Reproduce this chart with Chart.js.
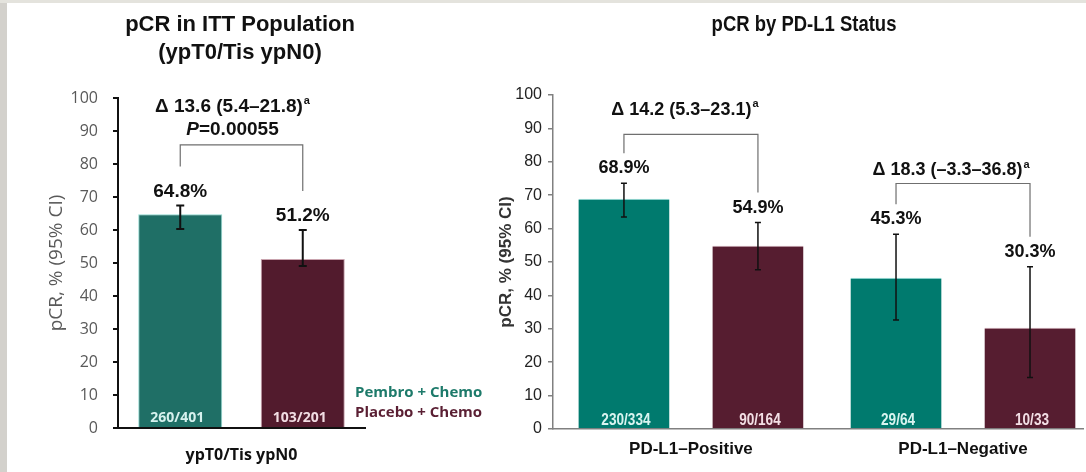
<!DOCTYPE html>
<html>
<head>
<meta charset="utf-8">
<script src="https://cdn.jsdelivr.net/npm/chart.js@4.4.1/dist/chart.umd.min.js"></script>
<style>
  html, body { margin: 0; padding: 0; }
  body { width: 1086px; height: 472px; background: #fff; position: relative; overflow: hidden; }
  #edgeLeft { position: absolute; left: 0; top: 0; width: 7px; height: 472px; background: #d3d1cc; }
  #edgeTop { position: absolute; left: 0; top: 0; width: 1086px; height: 3px; background: #e4e3dd; }
  .box { position: absolute; top: 0; height: 472px; }
  #boxItt { left: 0; width: 490px; }
  #boxPdl1 { left: 490px; width: 596px; }
</style>
</head>
<body>
<div id="edgeLeft"></div>
<div id="edgeTop"></div>
<div class="box" id="boxItt"><canvas id="ittCanvas" width="490" height="472"></canvas></div>
<div class="box" id="boxPdl1"><canvas id="pdl1Canvas" width="596" height="472"></canvas></div>
<script>
// arms
var armNames = ['Pembro + Chemo', 'Placebo + Chemo'];
var yTicks = [0, 10, 20, 30, 40, 50, 60, 70, 80, 90, 100];

// ITT population
var ittGroups = ['ypT0/Tis ypN0'];
var ittPcr = [64.8, 51.2];
var ittLow = [60.3, 49.1];
var ittHigh = [67.4, 60.0];
var ittCounts = ['260/401', '103/201'];
var ittDelta = 'Δ 13.6 (5.4–21.8)';
var ittP = '0.00055';

// PD-L1 subgroups
var pdl1Groups = ['PD-L1–Positive', 'PD-L1–Negative'];
var pdl1Pembro = [68.9, 45.3];
var pdl1PembroLow = [63.5, 32.6];
var pdl1PembroHigh = [73.6, 58.3];
var pdl1PembroCounts = ['230/334', '29/64'];
var pdl1Placebo = [54.9, 30.3];
var pdl1PlaceboLow = [47.7, 15.4];
var pdl1PlaceboHigh = [61.8, 48.6];
var pdl1PlaceboCounts = ['90/164', '10/33'];
var pdl1Deltas = ['Δ 14.2 (5.3–23.1)', 'Δ 18.3 (–3.3–36.8)'];

var ARIAL = "'Liberation Sans', Arial, sans-serif";
var OPEN = "'Open Sans', sans-serif";

function textWithSup(ctx, text, sup, cx, cy, font, supFont) {
    ctx.font = font;
    var w = ctx.measureText(text).width;
    ctx.font = supFont;
    var ws = ctx.measureText(sup).width;
    var x0 = cx - (w + ws + 1) / 2;
    ctx.textAlign = 'left';
    ctx.font = font;
    ctx.fillText(text, x0, cy);
    ctx.font = supFont;
    ctx.fillText(sup, x0 + w + 1, cy - 6);
}

// text squeezed horizontally, for the narrow face used on the PD-L1 panel
function squeezedText(ctx, text, x, y, squeeze) {
    ctx.save();
    ctx.translate(x, y);
    ctx.scale(squeeze, 1);
    ctx.fillText(text, 0, 0);
    ctx.restore();
}

// error bars, value labels, n/N counts, comparison brackets and titles
function pcrMarks(cfg) {
    return {
        id: 'pcrMarks',
        afterDatasetsDraw: function (chart) {
            var ctx = chart.ctx;
            var y = chart.scales.y;
            var area = chart.chartArea;
            var labelY = [];
            ctx.save();
            ctx.textBaseline = 'middle';

            chart.data.datasets.forEach(function (ds, d) {
                var meta = chart.getDatasetMeta(d);
                labelY[d] = [];
                meta.data.forEach(function (bar, i) {
                    var lo = y.getPixelForValue(ds.low[i]);
                    var hi = y.getPixelForValue(ds.high[i]);
                    ctx.strokeStyle = '#111';
                    ctx.lineWidth = cfg.errWidth;
                    ctx.beginPath();
                    ctx.moveTo(bar.x, lo);
                    ctx.lineTo(bar.x, hi);
                    ctx.moveTo(bar.x - cfg.cap, lo);
                    ctx.lineTo(bar.x + cfg.cap, lo);
                    ctx.moveTo(bar.x - cfg.cap, hi);
                    ctx.lineTo(bar.x + cfg.cap, hi);
                    ctx.stroke();

                    var vy = hi - cfg.labelGap;
                    labelY[d][i] = vy;
                    ctx.fillStyle = '#111';
                    ctx.textAlign = 'center';
                    ctx.font = cfg.valueFont;
                    ctx.fillText(ds.pcr[i].toFixed(1) + '%', bar.x, vy);

                    ctx.fillStyle = ds.countColor;
                    ctx.font = cfg.countFont;
                    squeezedText(ctx, ds.counts[i], bar.x + cfg.countShift, area.bottom - cfg.countGap, cfg.countSqueeze);
                });
            });

            var m0 = chart.getDatasetMeta(0);
            var m1 = chart.getDatasetMeta(1);
            cfg.brackets.forEach(function (b, i) {
                var x1 = m0.data[i].x;
                var x2 = m1.data[i].x;
                var top = y.getPixelForValue(b.level);
                ctx.strokeStyle = '#6f6f6f';
                ctx.lineWidth = 1.2;
                ctx.beginPath();
                ctx.moveTo(x1, labelY[0][i] - cfg.legGap);
                ctx.lineTo(x1, top);
                ctx.lineTo(x2, top);
                ctx.lineTo(x2, labelY[1][i] - cfg.legGap);
                ctx.stroke();

                ctx.fillStyle = '#111';
                var cx = (x1 + x2) / 2 + b.shift;
                textWithSup(ctx, b.text, 'a', cx, top - b.gap, cfg.deltaFont, cfg.supFont);
                if (b.p) {
                    ctx.font = 'italic ' + cfg.deltaFont;
                    var wp = ctx.measureText('P').width;
                    ctx.font = cfg.deltaFont;
                    var wr = ctx.measureText('=' + b.p).width;
                    var px = cx - (wp + wr) / 2;
                    ctx.textAlign = 'left';
                    ctx.font = 'italic ' + cfg.deltaFont;
                    ctx.fillText('P', px, top - b.pGap);
                    ctx.font = cfg.deltaFont;
                    ctx.fillText('=' + b.p, px + wp, top - b.pGap);
                }
            });

            ctx.fillStyle = '#111';
            ctx.textAlign = 'center';
            ctx.font = cfg.titleFont;
            cfg.title.forEach(function (line, k) {
                squeezedText(ctx, line, cfg.titleX, 25 + k * 28, cfg.titleSqueeze);
            });

            if (cfg.legend) {
                ctx.textAlign = 'left';
                ctx.font = cfg.legendFont;
                chart.data.datasets.forEach(function (ds, d) {
                    ctx.fillStyle = ds.legendColor;
                    ctx.fillText(ds.label, area.right - 10, area.bottom - 35 + d * 20);
                });
            }
            ctx.restore();
        }
    };
}

function yAxis(width, tickColor, lineColor, lineWidth, tickFont, tickPad, titleFont, titleColor, titlePad) {
    return {
        min: 0,
        max: 100,
        afterBuildTicks: function (s) {
            s.ticks = yTicks.map(function (v) { return { value: v }; });
        },
        afterFit: function (s) { s.width = width; },
        grid: { display: true, drawOnChartArea: false, drawTicks: true, tickLength: 5, color: lineColor, lineWidth: lineWidth },
        border: { display: true, color: lineColor, width: lineWidth },
        ticks: { padding: tickPad, color: tickColor, font: tickFont },
        title: { display: true, text: 'pCR, % (95% CI)', color: titleColor, font: titleFont, padding: { top: titlePad, bottom: 0 } }
    };
}

new Chart(document.getElementById('ittCanvas'), {
    type: 'bar',
    data: {
        labels: ittGroups,
        datasets: [
            {
                label: armNames[0],
                data: [ittPcr[0]],
                pcr: [ittPcr[0]],
                low: [ittLow[0]],
                high: [ittHigh[0]],
                counts: [ittCounts[0]],
                backgroundColor: '#1f6f66',
                borderColor: '#8fd8cf',
                borderWidth: 1,
                countColor: '#d6f1ee',
                legendColor: '#1d7a6a'
            },
            {
                label: armNames[1],
                data: [ittPcr[1]],
                pcr: [ittPcr[1]],
                low: [ittLow[1]],
                high: [ittHigh[1]],
                counts: [ittCounts[1]],
                backgroundColor: '#521b2d',
                borderColor: '#c9a3ae',
                borderWidth: 1,
                countColor: '#f1dde3',
                legendColor: '#5a1f33'
            }
        ]
    },
    options: {
        responsive: false,
        animation: false,
        categoryPercentage: 0.992,
        barPercentage: 0.686,
        layout: { padding: { top: 98, right: 125, bottom: 0, left: 0 } },
        plugins: { legend: { display: false }, tooltip: { enabled: false } },
        scales: {
            x: {
                afterFit: function (s) { s.height = 44; },
                grid: { display: false, drawTicks: false },
                border: { display: true, color: '#111', width: 2 },
                ticks: { padding: 18, color: '#111', font: { family: OPEN, size: 16, weight: 'bold' } }
            },
            y: yAxis(118, '#595959', '#111', 2, { family: OPEN, size: 16 }, 15,
                { family: OPEN, size: 19 }, '#595959', 45)
        }
    },
    plugins: [pcrMarks({
        errWidth: 2,
        cap: 4,
        labelGap: 14,
        legGap: 25,
        countGap: 10,
        countShift: -3,
        countSqueeze: 1,
        valueFont: 'bold 19px ' + ARIAL,
        countFont: 'bold 14px ' + OPEN,
        deltaFont: 'bold 19px ' + ARIAL,
        supFont: 'bold 11px ' + ARIAL,
        titleFont: 'bold 22px ' + ARIAL,
        titleSqueeze: 1,
        legendFont: 'bold 15px ' + OPEN,
        titleX: 240,
        title: ['pCR in ITT Population', '(ypT0/Tis ypN0)'],
        legend: true,
        brackets: [{ level: 85.8, text: ittDelta, p: ittP, gap: 38, pGap: 15, shift: -9 }]
    })]
});

function xy(values) {
    return values.map(function (v, i) { return { x: i, y: v }; });
}

new Chart(document.getElementById('pdl1Canvas'), {
    type: 'bar',
    data: {
        datasets: [
            {
                label: armNames[0],
                data: xy(pdl1Pembro),
                pcr: pdl1Pembro,
                low: pdl1PembroLow,
                high: pdl1PembroHigh,
                counts: pdl1PembroCounts,
                backgroundColor: '#007a6e',
                borderColor: '#9fe6df',
                borderWidth: { top: 1, left: 0, right: 0, bottom: 0 },
                countColor: '#d9f4f0'
            },
            {
                label: armNames[1],
                data: xy(pdl1Placebo),
                pcr: pdl1Placebo,
                low: pdl1PlaceboLow,
                high: pdl1PlaceboHigh,
                counts: pdl1PlaceboCounts,
                backgroundColor: '#561d30',
                borderColor: '#c7a2ad',
                borderWidth: { top: 1, left: 0, right: 0, bottom: 0 },
                countColor: '#f3dfe5'
            }
        ]
    },
    options: {
        responsive: false,
        animation: false,
        categoryPercentage: 0.985,
        barPercentage: 0.68,
        layout: { padding: { top: 95, right: 3, bottom: 0, left: 0 } },
        plugins: { legend: { display: false }, tooltip: { enabled: false } },
        scales: {
            x: {
                type: 'linear',
                offset: false,
                min: -0.507,
                max: 1.441,
                afterBuildTicks: function (s) {
                    s.ticks = pdl1Groups.map(function (g, i) { return { value: i }; });
                },
                afterFit: function (s) { s.height = 43; },
                grid: { display: false, drawTicks: false, offset: false },
                border: { display: true, color: '#808080', width: 1.5 },
                ticks: {
                    padding: 10,
                    color: '#111',
                    font: { family: ARIAL, size: 17, weight: 'bold' },
                    callback: function (v) { return pdl1Groups[v]; }
                }
            },
            y: yAxis(63, '#222', '#808080', 1.5, { family: ARIAL, size: 16 }, 6,
                { family: ARIAL, size: 17, weight: 'bold' }, '#333', 6)
        }
    },
    plugins: [pcrMarks({
        errWidth: 1.5,
        cap: 3,
        labelGap: 15,
        legGap: 15,
        countGap: 8,
        countShift: 2,
        countSqueeze: 0.85,
        valueFont: 'bold 18px ' + ARIAL,
        countFont: 'bold 16px ' + ARIAL,
        deltaFont: 'bold 18px ' + ARIAL,
        supFont: 'bold 11px ' + ARIAL,
        titleFont: 'bold 22px ' + ARIAL,
        titleSqueeze: 0.84,
        titleX: 314,
        title: ['pCR by PD-L1 Status'],
        legend: false,
        brackets: [
            { level: 88.2, text: pdl1Deltas[0], gap: 24, shift: -6 },
            { level: 73.5, text: pdl1Deltas[1], gap: 13, shift: -12 }
        ]
    })]
});
</script>
</body>
</html>
